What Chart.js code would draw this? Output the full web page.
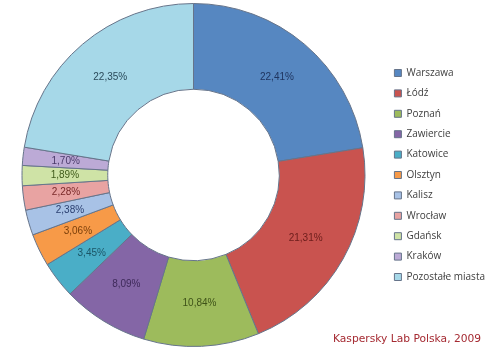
<!DOCTYPE html>
<html>
<head>
<meta charset="utf-8">
<script src="https://cdn.jsdelivr.net/npm/chart.js@4/dist/chart.umd.min.js"></script>
<style>
  html, body { margin: 0; padding: 0; background: #fff; }
  #wrap { position: relative; width: 490px; height: 352px; }
  #caption {
    position: absolute; left: 333px; top: 332px;
    font: 10.7px Verdana, "DejaVu Sans", sans-serif; color: #a52a32;
    white-space: nowrap;
  }
</style>
</head>
<body>
<div id="wrap">
  <canvas id="chart" width="490" height="352"></canvas>
  <div id="caption">Kaspersky Lab Polska, 2009</div>
</div>
<script>
// Data
const cities = ['Warszawa', 'Łódź', 'Poznań', 'Zawiercie', 'Katowice', 'Olsztyn',
                'Kalisz', 'Wrocław', 'Gdańsk', 'Kraków', 'Pozostałe miasta'];
const shares = [22.41, 21.31, 10.84, 8.09, 3.45, 3.06, 2.38, 2.28, 1.89, 1.70, 22.35];
const colors = ['#5687c1', '#c9534f', '#9dbb5c', '#8466a6', '#4aaec7', '#f79a48',
                '#a8c2e6', '#e8a3a2', '#cfe3a6', '#bcaad6', '#a6d8e8'];
// darker tints used for the percent text
const labelColors = ['#1f3560', '#6b1d1b', '#3e5218', '#3e2a5a', '#1b5566', '#7a3f0a',
                     '#2a3f70', '#7a2a2a', '#3f5a1a', '#4a3a6a', '#2a4a5a'];

// Percent labels drawn in the middle of each ring segment
const sliceLabels = {
    id: 'sliceLabels',
    afterDatasetsDraw(chart) {
        const ctx = chart.ctx;
        const meta = chart.getDatasetMeta(0);
        ctx.save();
        ctx.font = '10px "Liberation Sans", Arial, sans-serif';
        ctx.textAlign = 'center';
        ctx.textBaseline = 'middle';
        meta.data.forEach((arc, i) => {
            const p = arc.tooltipPosition();
            ctx.fillStyle = labelColors[i];
            ctx.fillText(shares[i].toFixed(2).replace('.', ',') + '%', p.x, p.y);
        });
        ctx.restore();
    }
};

const ctx = document.getElementById('chart').getContext('2d');
new Chart(ctx, {
    type: 'doughnut',
    data: {
        labels: cities,
        datasets: [{
            data: shares,
            backgroundColor: colors,
            borderColor: '#66748a',
            borderWidth: 1
        }]
    },
    options: {
        responsive: false,
        animation: false,
        cutout: '50%',
        layout: { padding: { top: 3, bottom: 5, left: 3, right: -5 } },
        plugins: {
            tooltip: { enabled: false },
            legend: {
                position: 'right',
                labels: {
                    boxWidth: 7,
                    boxHeight: 7,
                    padding: 10.4,
                    color: '#404040',
                    font: { family: '"Open Sans", sans-serif', size: 10 }
                }
            }
        }
    },
    plugins: [sliceLabels]
});
</script>
</body>
</html>
